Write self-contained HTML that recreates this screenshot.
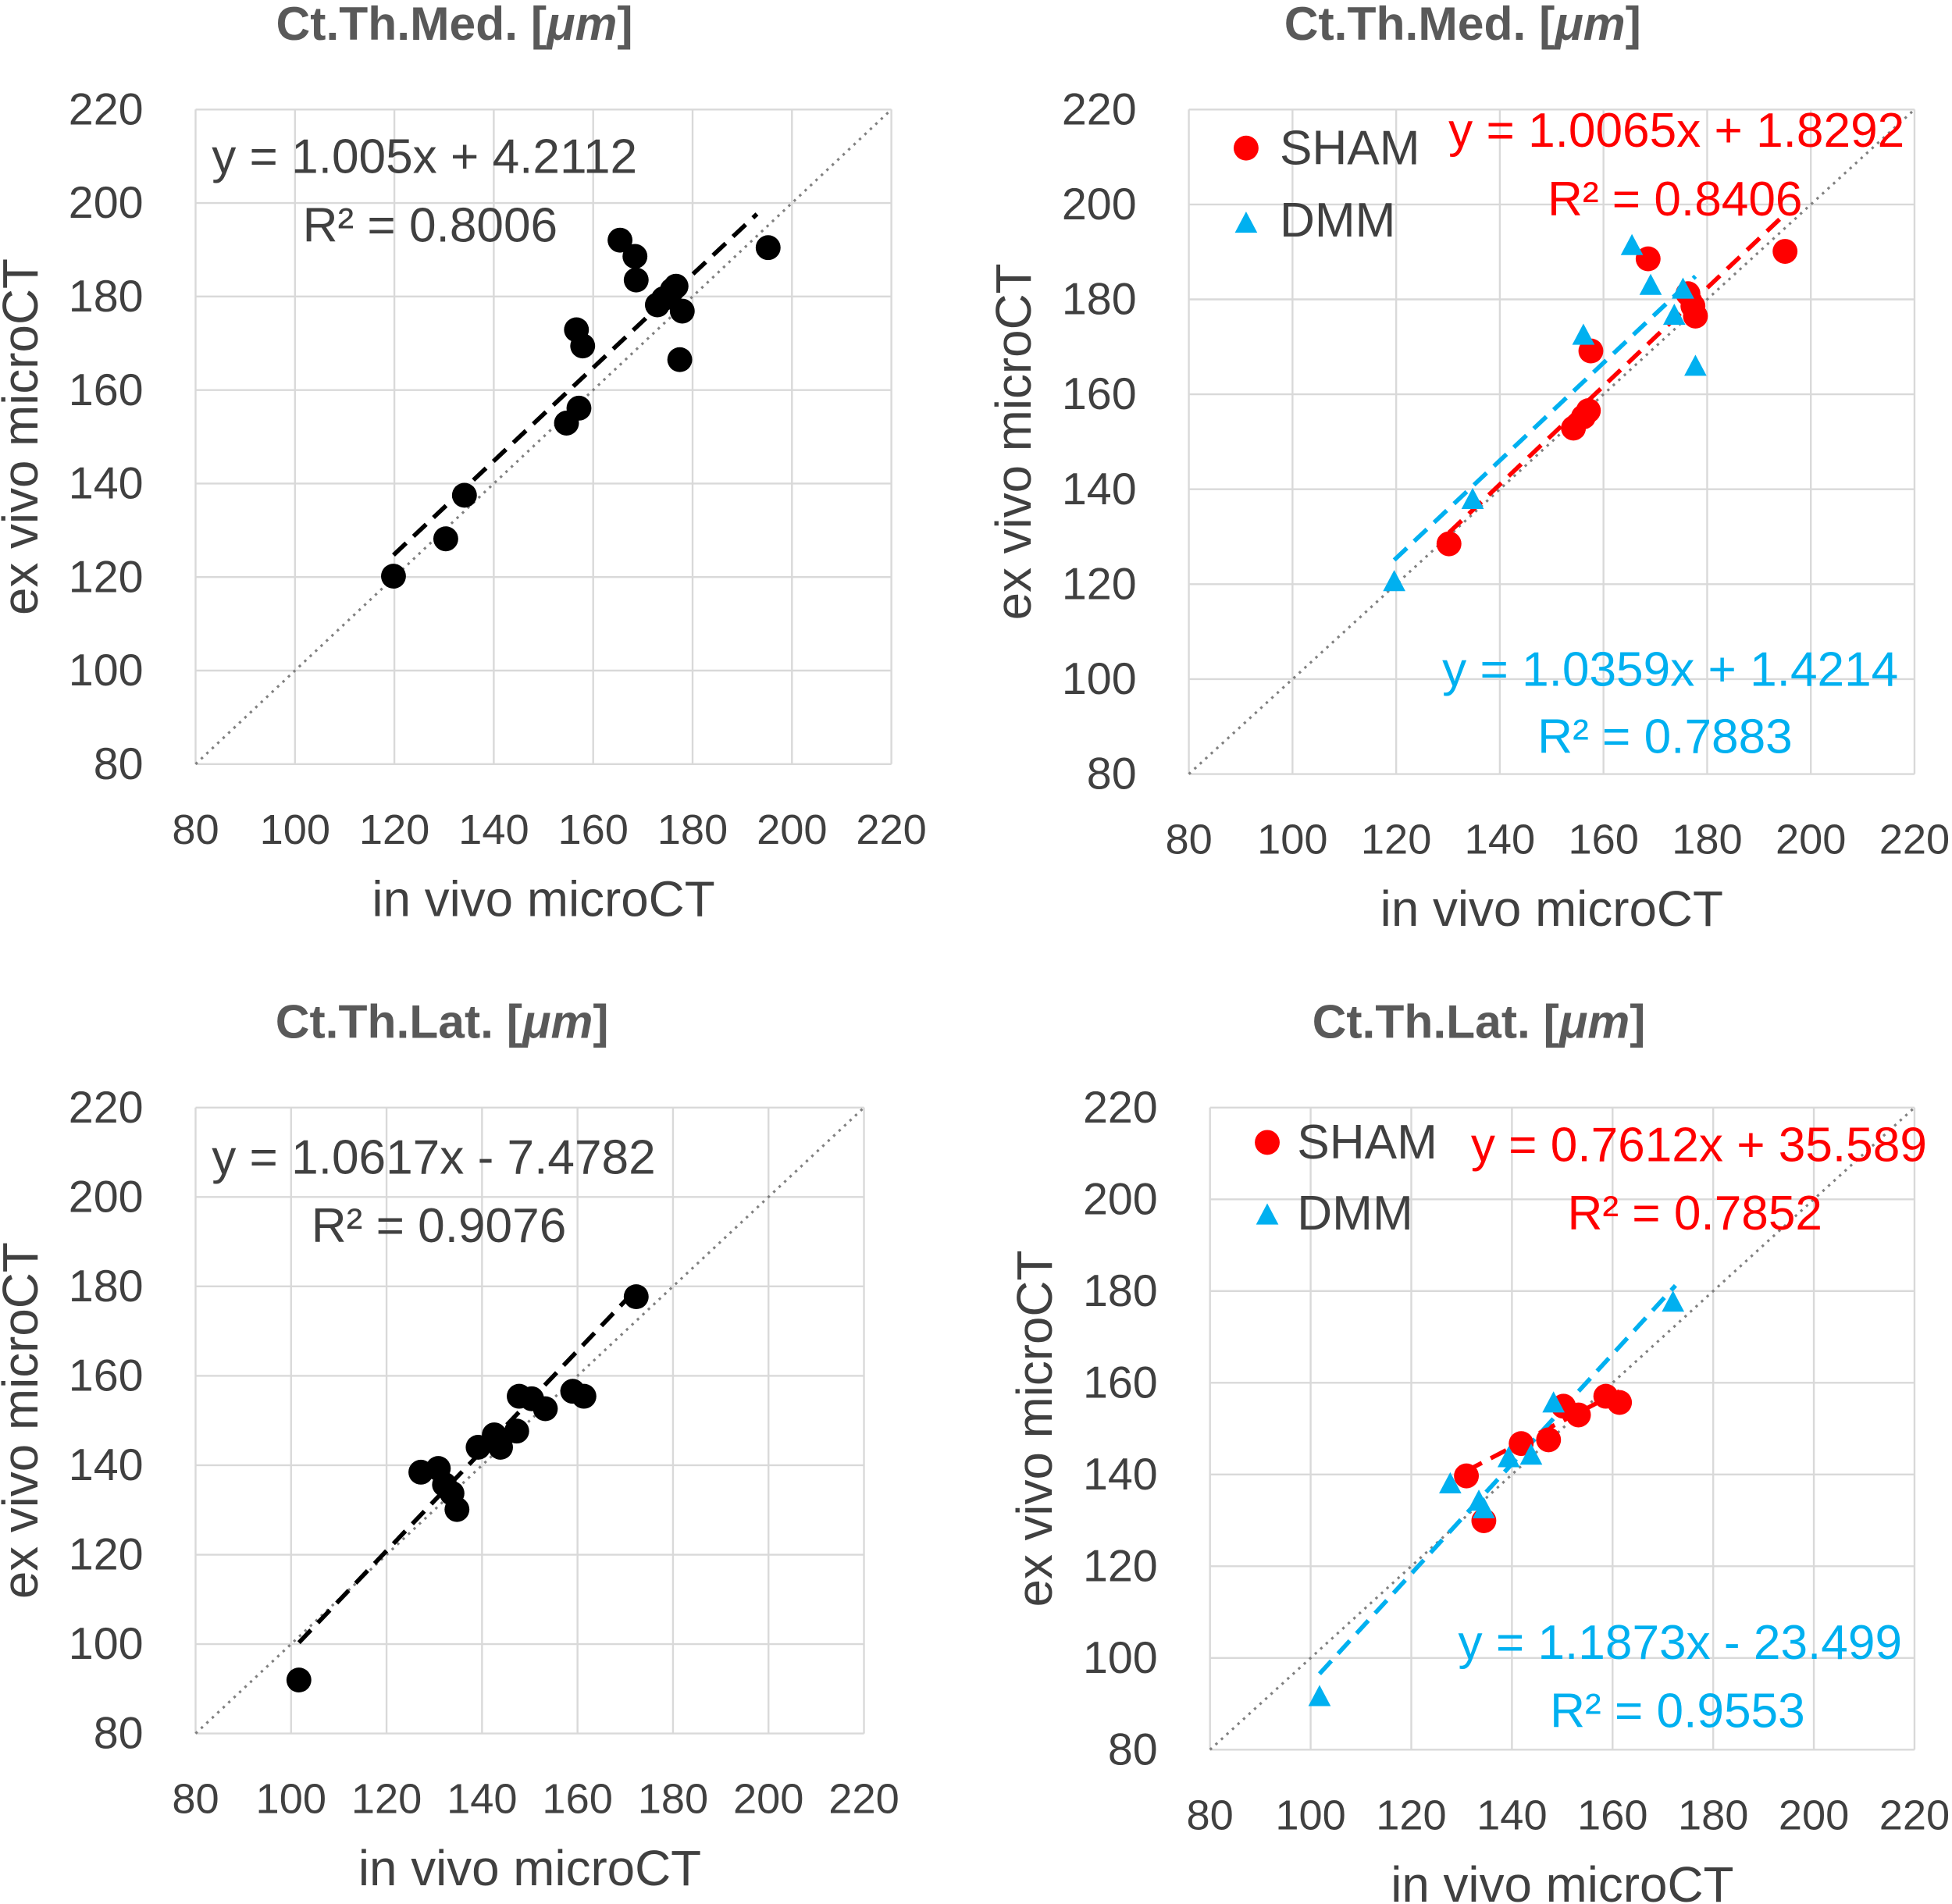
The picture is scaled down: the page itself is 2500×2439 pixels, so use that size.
<!DOCTYPE html>
<html><head><meta charset="utf-8"><style>
html,body{margin:0;padding:0;background:#fff;}
svg{display:block;}
text{font-family:"Liberation Sans","DejaVu Sans",sans-serif;}
</style></head><body>
<svg id="s" width="2500" height="2439" viewBox="0 0 1568 1530" xmlns="http://www.w3.org/2000/svg"></svg>
<script>
const S=document.getElementById('s');let h='';
const R='#ff0000',B='#00b0f0';
function panel(o){
 const {x0,x1,y0,y1}=o;const sx=(x1-x0)/7,sy=(y1-y0)/7;
 for(let i=0;i<=7;i++){
  h+=`<line x1="${x0+i*sx}" y1="${y0}" x2="${x0+i*sx}" y2="${y1}" stroke="#d9d9d9" stroke-width="1.5"/>`;
  h+=`<line x1="${x0}" y1="${y0+i*sy}" x2="${x1}" y2="${y0+i*sy}" stroke="#d9d9d9" stroke-width="1.5"/>`;
  h+=`<text x="${x0+i*sx}" y="${y1+64}" font-size="34" fill="#404040" text-anchor="middle">${80+i*20}</text>`;
  h+=`<text x="${x0-42}" y="${y1-i*sy+12}" font-size="36" fill="#404040" text-anchor="end">${80+i*20}</text>`;
 }
 h+=`<line x1="${x0}" y1="${y1}" x2="${x1}" y2="${y0}" stroke="#808080" stroke-width="2" stroke-dasharray="2,4"/>`;
 const cx=(x0+x1)/2;
 h+=`<text x="${o.tx}" y="${o.ty}" font-size="38" font-weight="bold" fill="#595959" text-anchor="middle">${o.title.replace('μm','<tspan font-style="italic">μm</tspan>')}</text>`;
 h+=`<text x="${cx}" y="${y1+122}" font-size="40" fill="#404040" text-anchor="middle">in vivo microCT</text>`;
 h+=`<text transform="translate(${o.lx},${(y0+y1)/2}) rotate(-90)" font-size="40" fill="#404040" text-anchor="middle">ex vivo microCT</text>`;
}
function trend(a,b,c,col){h+=`<line x1="${a}" y1="${b}" x2="${c[0]}" y2="${c[1]}" stroke="${col}" stroke-width="3.5" stroke-dasharray="14,8"/>`;}
function dots(p,col){p.forEach(([x,y])=>h+=`<circle cx="${x}" cy="${y}" r="10" fill="${col}"/>`);}
function tris(p,col){p.forEach(([x,y])=>h+=`<polygon points="${x},${y-10} ${x-9},${y+7} ${x+9},${y+7}" fill="${col}"/>`);}
function txt(x,y,t,col,anc,fs){h+=`<text x="${x}" y="${y}" font-size="${fs||39}" fill="${col}" text-anchor="${anc||'start'}">${t}</text>`;}
// Panel 1
panel({x0:157,x1:716,y0:88,y1:614,title:'Ct.Th.Med. [μm]',tx:365,ty:32,lx:30});
trend(316,446,[608,172],'#000');
dots([[316,463],[358,433],[373,398],[455,340],[465,328],[463,265],[468,278],[498,193],[510,206],[511,225],[528,245],[533,240],[540,233],[543,230],[548,250],[546,289],[617,199]],'#000');
txt(170,139,'y = 1.005x + 4.2112','#404040');txt(243,194,'R² = 0.8006','#404040');
// Panel 2
panel({x0:955,x1:1538,y0:88,y1:622,title:'Ct.Th.Med. [μm]',tx:1175,ty:32,lx:828});
trend(1164,428,[1434,172],R);trend(1120,450,[1362,222],B);
dots([[1164,437],[1264,344],[1272,335],[1276,330],[1278,282],[1324,208],[1356,236],[1360,246],[1362,254],[1434,202]],R);
tris([[1120,468],[1183,402],[1272,270],[1311,198],[1326,230],[1345,254],[1352,233],[1362,295]],B);
dots([[1001,119]],R);tris([[1001,180]],B);
txt(1028,132,'SHAM','#404040');txt(1028,190,'DMM','#404040');
txt(1530,118,'y = 1.0065x + 1.8292',R,'end');txt(1448,173,'R² = 0.8406',R,'end');
txt(1525,551,'y = 1.0359x + 1.4214',B,'end');txt(1440,605,'R² = 0.7883',B,'end');
// Panel 3
panel({x0:157,x1:694,y0:890,y1:1393,title:'Ct.Th.Lat. [μm]',tx:355,ty:834,lx:30});
trend(240,1320,[512,1035],'#000');
dots([[240,1350],[338,1183],[352,1180],[357,1193],[363,1200],[367,1213],[384,1163],[397,1153],[402,1163],[415,1150],[417,1122],[427,1124],[438,1132],[460,1118],[469,1122],[511,1042]],'#000');
txt(170,943,'y = 1.0617x - 7.4782','#404040');txt(250,998,'R² = 0.9076','#404040');
// Panel 4
panel({x0:972,x1:1538,y0:890,y1:1406,title:'Ct.Th.Lat. [μm]',tx:1188,ty:834,lx:845});
trend(1178,1182,[1301,1118],R);trend(1060,1345,[1346,1033],B);
dots([[1178,1186],[1192,1222],[1222,1160],[1244,1157],[1256,1130],[1268,1137],[1290,1122],[1301,1127]],R);
tris([[1060,1364],[1165,1193],[1188,1207],[1192,1213],[1212,1172],[1230,1170],[1248,1128],[1344,1047]],B);
dots([[1018,918]],R);tris([[1018,977]],B);
txt(1042,931,'SHAM','#404040');txt(1042,988,'DMM','#404040');
txt(1548,933,'y = 0.7612x + 35.589',R,'end');txt(1464,988,'R² = 0.7852',R,'end');
txt(1528,1333,'y = 1.1873x - 23.499',B,'end');txt(1450,1388,'R² = 0.9553',B,'end');
S.innerHTML=h;
</script>
</body></html>
